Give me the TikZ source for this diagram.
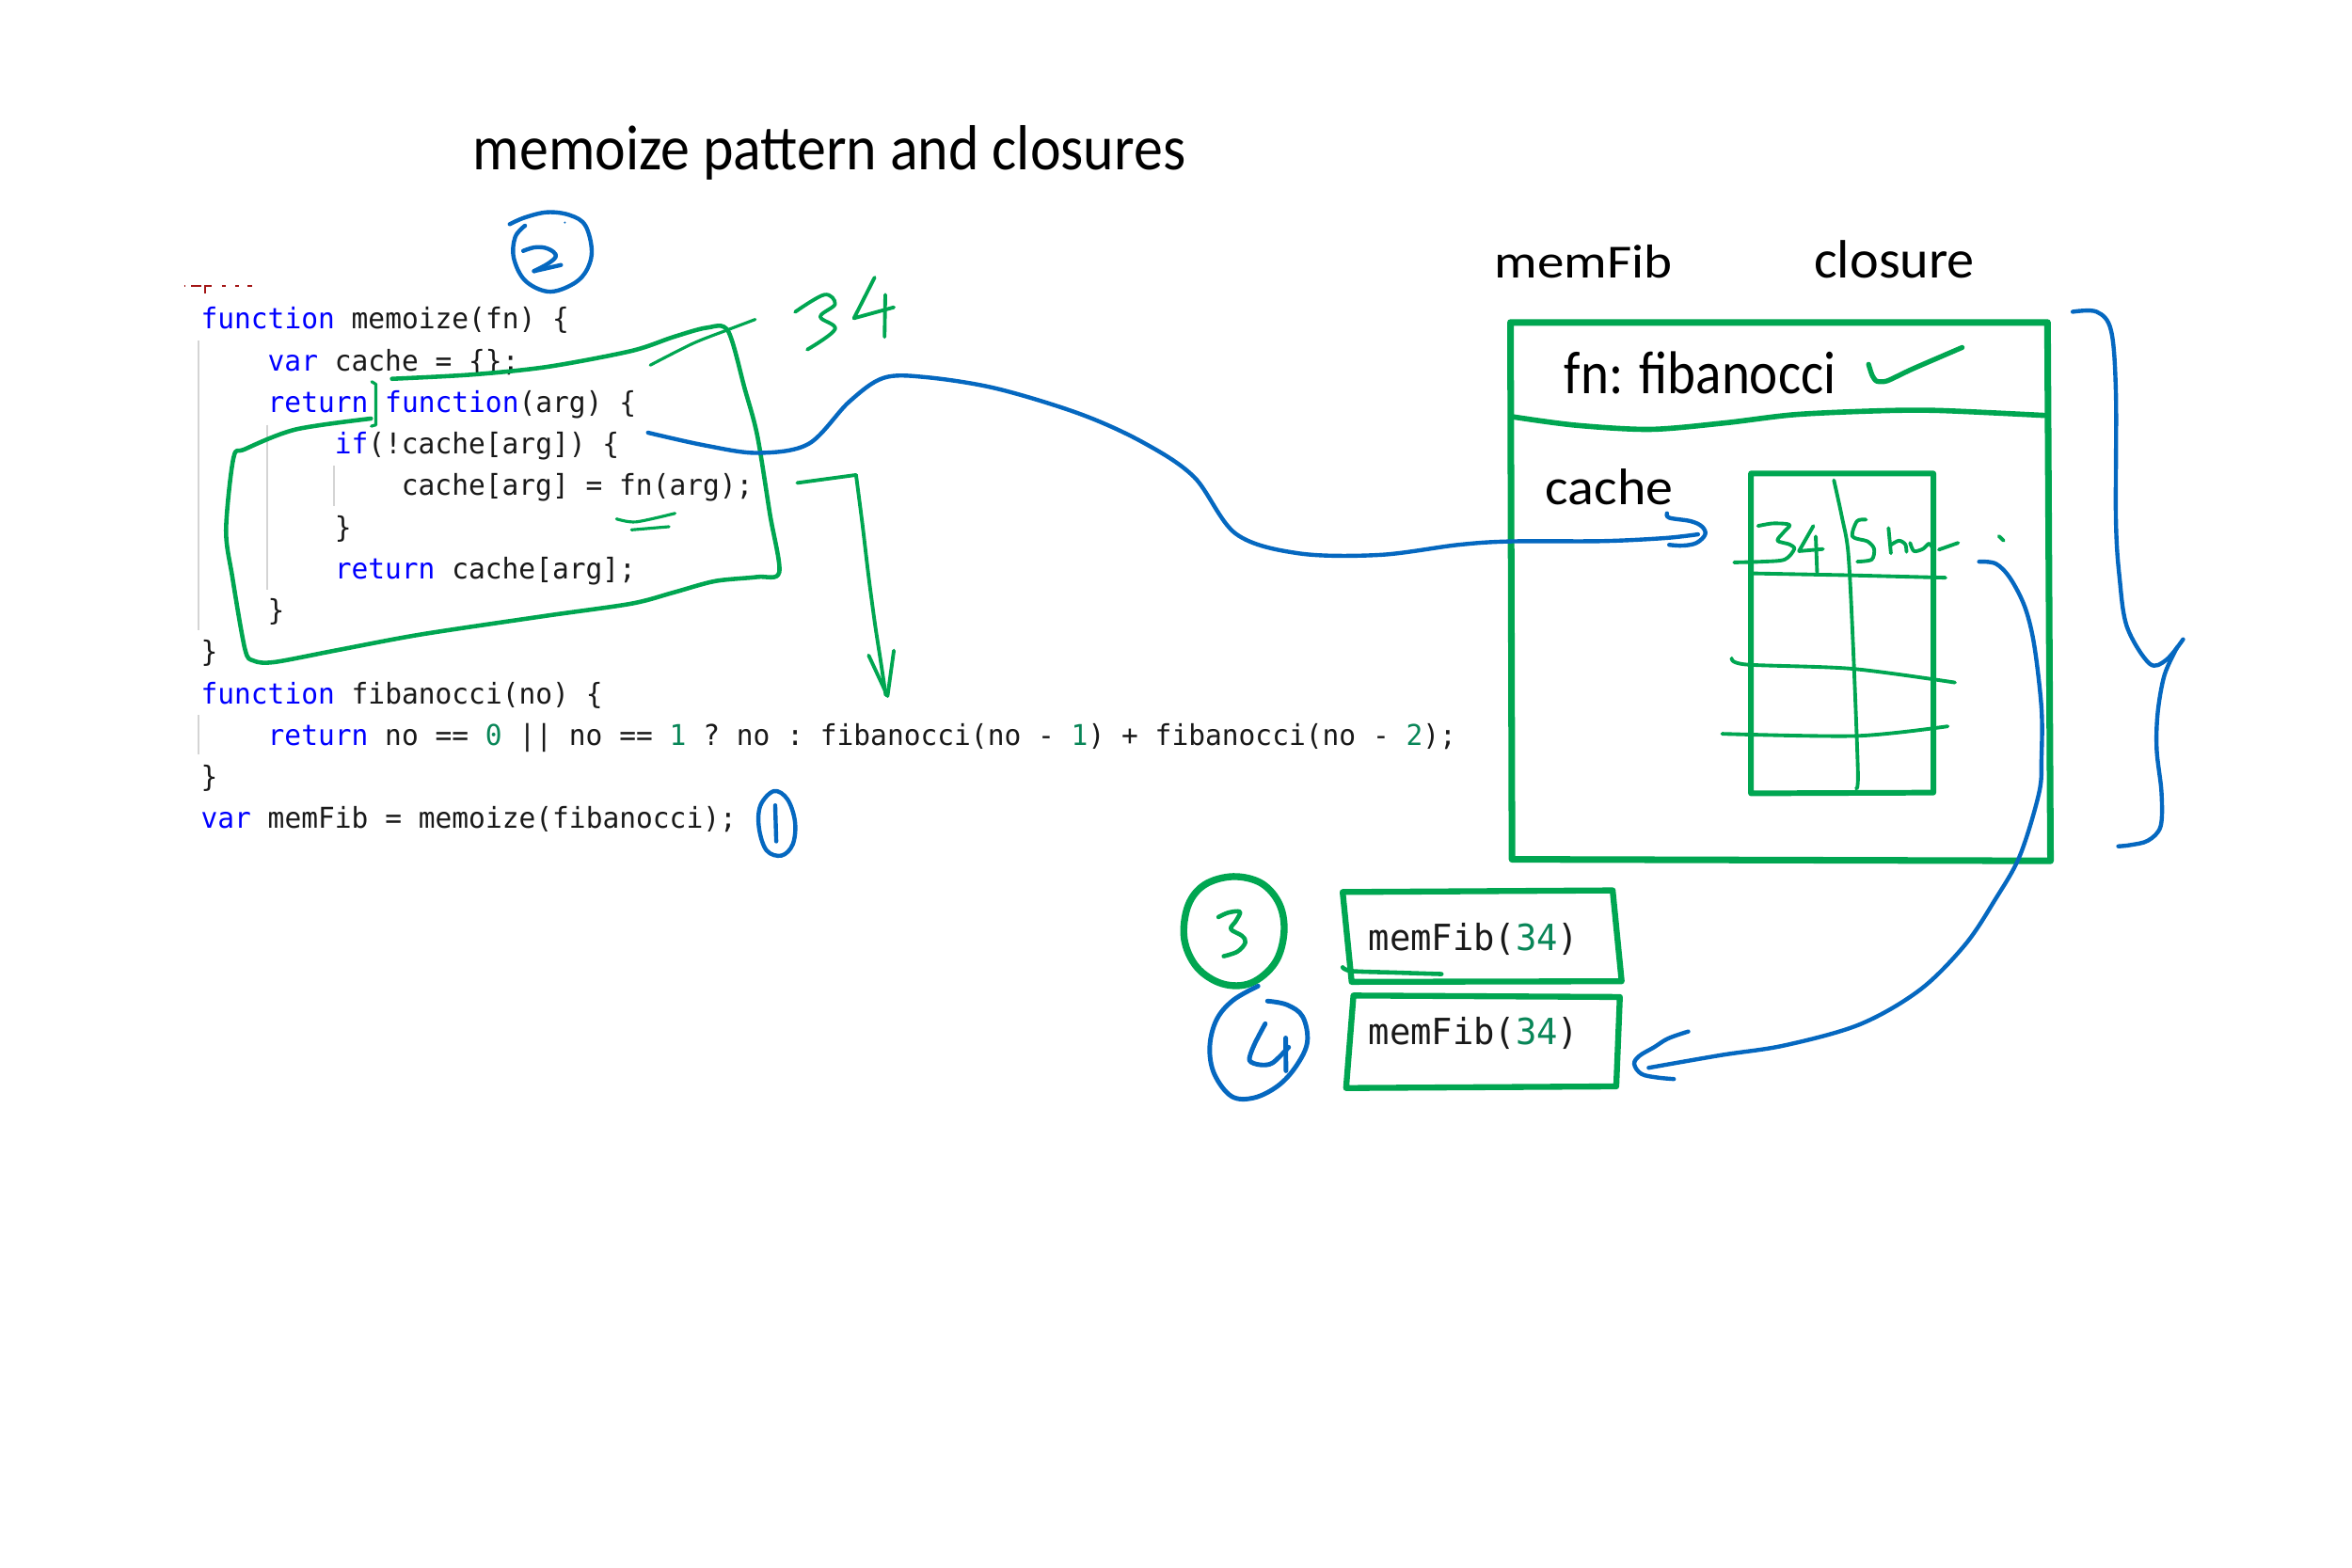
\documentclass[tikz,border=0pt]{standalone}
\usepackage{fontspec}
\usepackage{graphicx}
\newfontfamily\codefont[FakeStretch=0.97]{DejaVu Sans Mono}
\newfontfamily\handfont{Carlito}
\newlength\du
\setlength\du{0.015944cm}
\definecolor{inkgreen}{RGB}{0,166,81}
\definecolor{inkblue}{RGB}{5,104,192}
\definecolor{kwblue}{RGB}{0,0,255}
\definecolor{numgreen}{RGB}{9,134,88}
\definecolor{guidegray}{RGB}{212,212,212}
\definecolor{strred}{RGB}{163,21,21}
\definecolor{codeblack}{RGB}{25,25,25}
\newcommand{\kwd}[1]{\textcolor{kwblue}{#1}}
\newcommand{\numc}[1]{\textcolor{numgreen}{#1}}
\newcommand{\hw}[3]{\resizebox{#1\du}{#2\du}{\handfont #3}}
\tikzset{
  codeline/.style={anchor=base west, inner sep=0pt, text=codeblack,
    font={\codefont\fontsize{8.67pt}{10pt}\selectfont\frenchspacing}},
  callline/.style={anchor=base west, inner sep=0pt, text=codeblack,
    font={\codefont\fontsize{10.9pt}{12pt}\selectfont\frenchspacing}},
  handtext/.style={anchor=base west, inner sep=0pt, text=black},
  guide/.style={draw=guidegray, line width=0.5pt},
  gbox/.style={draw=inkgreen, line width=2.0pt, line cap=round, line join=round},
  gmid/.style={draw=inkgreen, line width=1.5pt, line cap=round, line join=round},
  gthin/.style={draw=inkgreen, line width=1.1pt, line cap=round, line join=round},
  bline/.style={draw=inkblue, line width=1.25pt, line cap=round, line join=round},
}
\begin{document}
\begin{tikzpicture}[x=0.015944cm, y=-0.015944cm]
\fill[white] (0,0) rectangle (1568,1045.5);
\useasboundingbox (0,0) rectangle (1568,1045.5);

% ---------------- title and labels ----------------
\node[handtext] (title) at (315,112.9) {\hw{475}{29.5}{memoize pattern and closures}};
\node[handtext] (memfiblbl) at (996,185.5) {\hw{118.5}{22}{memFib}};
\node[handtext] (closurelbl) at (1209,185.5) {\hw{107}{25}{closure}};
\node[handtext] (fnlbl) at (1042.5,262.5) {\hw{181}{28}{fn: fibanocci}};
\node[handtext] (cachelbl) at (1030,336.8) {\hw{85}{23.8}{cache}};

% ---------------- code ----------------
% fragment of previous line
\draw[strred, line width=0.6pt] (122.7,190.5) -- (123.5,190.5)
  (127.5,190.8) -- (134,190.8) (137,190.3) -- (137,195.5) (137,190.6) -- (141,190.6)
  (148,190.8) -- (150.5,190.8) (157,190.6) -- (159.5,190.6) (165,190.6) -- (168,190.6);

\node[codeline] (c0) at (133.5,219.5) {\kwd{function} memoize(fn) \{};
\node[codeline] (c1) at (178.1,247.25) {\kwd{var} cache = \{\};};
\node[codeline] (c2) at (178.1,275.0) {\kwd{return} \kwd{function}(arg) \{};
\node[codeline] (c3) at (222.7,302.75) {\kwd{if}(!cache[arg]) \{};
\node[codeline] (c4) at (267.3,330.5) {cache[arg] = fn(arg);};
\node[codeline] (c5) at (222.7,358.25) {\}};
\node[codeline] (c6) at (222.7,386.0) {\kwd{return} cache[arg];};
\node[codeline] (c7) at (178.1,413.75) {\}};
\node[codeline] (c8) at (133.5,441.5) {\}};
\node[codeline] (c9) at (133.5,469.25) {\kwd{function} fibanocci(no) \{};
\node[codeline] (c10) at (178.1,497.0) {\kwd{return} no == \numc{0} || no == \numc{1} ? no : fibanocci(no - \numc{1}) + fibanocci(no - \numc{2});};
\node[codeline] (c11) at (133.5,524.75) {\}};
\node[codeline] (c12) at (133.5,552.5) {\kwd{var} memFib = memoize(fibanocci);};

% indent guides
\draw[guide] (132.5,227) -- (132.5,420);
\draw[guide] (177.9,283.3) -- (177.9,393);
\draw[guide] (222.7,310.5) -- (222.7,337.6);
\draw[guide] (132.5,476.7) -- (132.5,502.8);

% ---------------- green marks on code ----------------
% loop around inner function
\draw[gthin, line width=1.3pt] plot[smooth, tension=0.5] coordinates {
  (261.3,252.6) (314.5,249.8) (364.9,244.6) (420.9,234) (448.9,224.7) (471.3,218.5)
  (485.3,220.6) (496.5,259.2) (504.9,290.6) (513.3,342.9) (519.5,381.5)
  (504.9,384.7) (476.7,387.5) (448.9,395.1) (420.9,402.5) (364.9,410.5) (280.9,423)
  (224.9,433.5) (182.9,441.5) (168.9,440.5) (163.3,432.8) (154.9,384.7) (150.7,353.3)
  (155.7,305.2) (163.3,299.5) (196.9,286.4) (247.3,279.1)};
% small bracket after return
\draw[gthin, line width=0.9pt] (247.8,254.5) -- (250.6,256.2) -- (250.6,283.3) -- (247.5,284.2);
% slash at top right corner
\draw[gthin, line width=0.9pt] plot[smooth] coordinates {(433.5,243.5) (462,229) (485,220) (503.5,213)};
% double underline under fn(arg)
\draw[gthin, line width=0.9pt] plot[smooth] coordinates {(411,346) (424,348) (450,342.3)};
\draw[gthin, line width=0.9pt] (421,353.3) -- (446,351.2);
% handwritten 34
\draw[gthin] plot[smooth, tension=0.6] coordinates {(530.1,208) (549.6,196.5) (556.7,202.8) (546.9,211.2) (556.7,219.5) (538.2,233.1)};
\draw[gthin] (583.1,185) -- (569.3,212.2) -- (595.9,204.9);
\draw[gthin] (590.2,196.5) -- (589.7,224.7);
% green down arrow
\coordinate (garrstart) at (531.5,322);
\coordinate (garrend) at (590.5,463.5);
\draw[gthin] (garrstart) -- (570.7,316.7);
\draw[gthin] plot[smooth] coordinates {(570.7,316.7) (575,350) (579.1,384.6) (583.3,416) (587,440) (garrend)};
\draw[gthin] (579.1,437) -- (591.7,464.1) -- (595.9,433.8);

% ---------------- circled numbers ----------------
% blue 2
\draw[bline] plot[smooth, tension=0.6] coordinates {(339.8,149.5) (350,145) (365,141.5) (380,143.5) (390.3,150.5) (394.5,168) (390,182) (380,190.5) (365.1,194.4) (350,187) (342.5,172) (343.5,158) (350,150.5)};
\draw[bline] plot[smooth, tension=0.6] coordinates {(348.8,167.3) (356,165) (363.2,165.2) (369,168) (370.4,171.4) (365,176) (356,180.8)};
\draw[bline] (356,180.8) -- (374,176.7);
\fill[inkblue] (376.6,148.4) circle (0.7);
% blue 1
\draw[bline] plot[smooth cycle, tension=0.6] coordinates {(516,527.5) (525,533) (530,548) (528.5,563) (521,570.5) (511,567) (506,552) (507,537)};
\draw[bline] (516.8,537) -- (517.5,561);
% green 3
\draw[gbox, line width=2.1pt] plot[smooth cycle, tension=0.6] coordinates {(822,584.5) (841,589) (853,603) (856,622) (850,642) (834,655.5) (815,656) (798,645) (789.5,626) (792,604) (803,590)};
\draw[gthin, line width=1.3pt] plot[smooth, tension=0.6] coordinates {(812.3,611.5) (819,608.5) (826.6,608) (824,614) (820.6,619.5) (828,624) (830.2,628.5) (825,634.5) (815.8,637.6)};
% blue 4
\draw[bline, line width=1.4pt] plot[smooth, tension=0.6] coordinates {(838.7,657.5) (822,667) (811,680) (806.5,698) (809.5,716) (821,731) (836,732) (852,724) (864,711) (871.5,695) (868.5,678) (858,670) (845,667.5)};
\draw[bline, line width=1.4pt] plot[smooth, tension=0.5] coordinates {(843.5,682.6) (836,697) (833,707) (840,710) (848.3,708.8) (859.1,698.3)};
\draw[bline, line width=1.4pt] (857.1,692.1) -- (857.3,714);

% ---------------- memFib call boxes ----------------
\draw[gbox, line width=1.8pt] (895.1,594.8) -- (1075.1,593.7) -- (1081.1,654.3) -- (901.1,654.7) -- cycle;
\draw[gthin, line width=1.3pt] plot[smooth] coordinates {(895.1,645) (901.1,647.5) (930,648.5) (961,649.5)};
\node[callline] (call3) at (911.9,633.5) {memFib(\numc{34})};
\draw[gbox, line width=1.8pt] (902.3,663.8) -- (1079.9,664.8) -- (1077.5,724.4) -- (897.4,725.5) -- cycle;
\node[callline] (call4) at (911.9,696.2) {memFib(\numc{34})};

% ---------------- closure box ----------------
\draw[gbox] (1007,215) -- (1365,215) -- (1367,574) -- (1008,573) -- cycle;
\draw[gmid, line width=1.6pt] plot[smooth] coordinates {(1009,278) (1050,283.5) (1100.2,286.3) (1150,282) (1196,276.5) (1250,274) (1292,273.7) (1363,277)};
% check mark
\draw[gthin, line width=1.5pt] plot[smooth, tension=0.4] coordinates {(1245.7,242.9) (1248,250) (1251,254.1) (1258,254) (1275,246) (1308.1,231.7)};
% cache table
\draw[gmid, line width=1.7pt] (1167.3,315.7) -- (1288.9,315.7) -- (1288.9,528.5) -- (1167.3,529) -- cycle;
\draw[gthin] plot[smooth] coordinates {(1222.6,320.2) (1228,345) (1232.2,369.2) (1235.4,430.5) (1238.6,514.5) (1237.5,525.7)};
\draw[gthin] (1167.3,382.3) -- (1230,383.5) -- (1297,385.2);
\draw[gthin] plot[smooth] coordinates {(1154.5,438.9) (1164.1,443.1) (1234.5,445.9) (1303.3,455.1)};
\draw[gthin] plot[smooth] coordinates {(1148.1,489.3) (1237.7,490.7) (1298.5,484.3)};
% handwritten 34 5hu in table
\draw[gthin] plot[smooth, tension=0.5] coordinates {(1172,350.7) (1182,349) (1193,349.9) (1189,355) (1185,360.5) (1193,363) (1196.2,366.1) (1189.8,373.1) (1175,374.5) (1156.1,375)};
\draw[gthin] (1208.9,350.7) -- (1199.3,367.5) -- (1215.3,366.1);
\draw[gthin] (1210.5,357.7) -- (1211.4,381.5);
\draw[gthin] plot[smooth, tension=0.5] coordinates {(1244,346.5) (1238,347.5) (1235,357.7) (1245,361) (1249.4,366) (1247.8,373.1) (1238.2,374.5)};
\draw[gthin] (1259,352.1) -- (1260.6,368.9);
\draw[gthin] plot[smooth, tension=0.5] coordinates {(1260.6,363.3) (1266,360.5) (1270.2,363) (1271,368)};
\draw[gthin] plot[smooth, tension=0.5] coordinates {(1273.4,362) (1276,367.5) (1282,366) (1286.2,362.5) (1289.4,367.5)};
\draw[gthin] (1292.6,366.5) -- (1305.4,362);
\draw[gthin] (1332.6,357.5) -- (1335.8,360.5);

% ---------------- blue connectors ----------------
\coordinate (bstart) at (432,288.5);
\coordinate (bend) at (1132,356.3);
\draw[bline] plot[smooth, tension=0.55] coordinates {(bstart) (470,297) (505,302) (539,296) (566,268) (589,252) (617,251.5) (664,259) (720,276) (762,295) (796,318) (824,356) (866,369) (920,370) (972,363.3) (1007,361) (1068,360.8) (1109.7,358.8) (bend)};
\draw[bline] plot[smooth, tension=0.6] coordinates {(1111.3,342.3) (1113,345.3) (1127,347.5) (1134.5,351) (1136.8,356.3) (1131,362) (1122,363.8) (1112.8,363.3)};

\coordinate (cstart) at (1319.4,374.5);
\coordinate (cend) at (1099.1,712);
\draw[bline] plot[smooth, tension=0.55] coordinates {(cstart) (1330.6,375.9) (1340.2,385.7) (1350,405) (1356.2,430.5) (1361,472.5) (1361,505) (1359.4,528.5) (1346.6,570.5) (1330,600) (1310,630) (1280,660) (1240,683) (1190,697) (1147.8,703.5) (cend)};
\draw[bline] plot[smooth, tension=0.6] coordinates {(1125.5,687.8) (1112,692.5) (1102.7,698.3) (1093,704) (1089.5,709.5) (1094.3,716.1) (1105,718.5) (1115.9,719.5)};

% brace
\draw[bline] plot[smooth, tension=0.55] coordinates {(1381.8,207.9) (1397.8,207.9) (1407.4,220.5) (1410.6,262.5) (1410.6,346.5) (1413,385) (1418,418) (1433,442.5) (1444.2,440) (1455.4,426.3)};
\draw[bline] plot[smooth, tension=0.55] coordinates {(1451.5,431.5) (1443,450) (1438.5,475) (1437.8,500) (1441,528.5) (1440.4,551) (1432,560.5) (1420,563.5) (1412.2,564.3)};
\end{tikzpicture}
\end{document}
